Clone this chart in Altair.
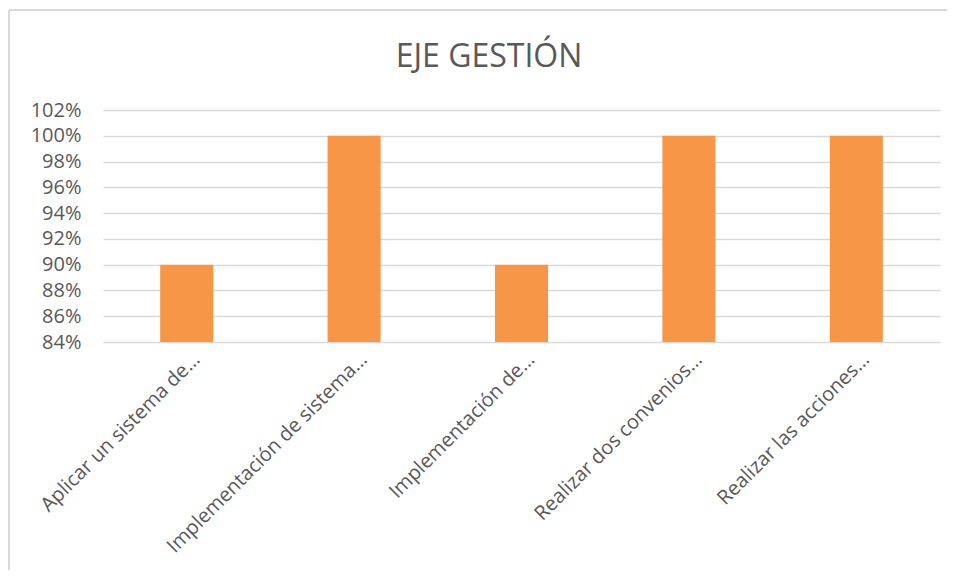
import altair as alt
import pandas as pd

categories = [
    "Aplicar un sistema de…",
    "Implementación de sistema…",
    "Implementación de…",
    "Realizar dos convenios…",
    "Realizar las acciones…",
]
values = [0.90, 1.00, 0.90, 1.00, 1.00]
y_ticks = [0.84, 0.86, 0.88, 0.90, 0.92, 0.94, 0.96, 0.98, 1.00, 1.02]
title_text = "EJE GESTIÓN"

df = pd.DataFrame({"cat": categories, "val": values})

TEXT = "#595959"
FONT = "Open Sans"

bars = alt.Chart(df).mark_bar(color="#F79646").encode(
    x=alt.X(
        "cat:N",
        sort=categories,
        title=None,
        scale=alt.Scale(paddingInner=0.683, paddingOuter=0.3415),
        axis=alt.Axis(
            labelAngle=-45,
            labelAlign="right",
            labelBaseline="middle",
            labelFontSize=20,
            labelFont=FONT,
            labelColor=TEXT,
            labelPadding=14,
            labelOffset=10,
            ticks=False,
            domain=False,
            grid=False,
            labelLimit=400,
        ),
    ),
    y=alt.Y(
        "val:Q",
        title=None,
        scale=alt.Scale(domain=[0.84, 1.02], zero=False, nice=False),
        axis=alt.Axis(
            values=y_ticks,
            format=".0%",
            labelFontSize=20,
            labelFont=FONT,
            labelColor=TEXT,
            labelPadding=22,
            ticks=False,
            domain=False,
            gridColor="#D9D9D9",
            gridWidth=1.5,
        ),
    ),
    y2=alt.datum(0.84),
)

one = pd.DataFrame({"a": [0]})
top_edge = alt.Chart(one).mark_rule(color="#D9D9D9", strokeWidth=2).encode(
    x=alt.value(-94), x2=alt.value(900), y=alt.value(-100)
)
left_edge = alt.Chart(one).mark_rule(color="#D9D9D9", strokeWidth=2).encode(
    x=alt.value(-94), y=alt.value(-100), y2=alt.value(600)
)

title = alt.Chart(pd.DataFrame({"t": [title_text]})).mark_text(
    fontSize=32, font=FONT, color=TEXT, align="center", baseline="alphabetic"
).encode(
    text="t:N", x=alt.value(386), y=alt.value(-43)
)

chart = alt.layer(top_edge, left_edge, bars, title).properties(
    width=837,
    height=232,
    padding={"left": 95, "top": 102, "right": 7, "bottom": 228},
    autosize=alt.AutoSizeParams(type="none"),
).configure_view(stroke=None)

chart.save("out.html", embed_options={"renderer": "svg", "actions": False})
